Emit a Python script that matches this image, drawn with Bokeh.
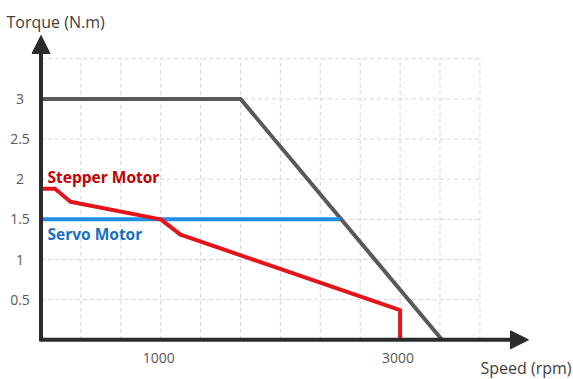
from bokeh.plotting import figure
from bokeh.models import Range1d, Arrow, NormalHead
from bokeh.core.properties import value
from bokeh.embed import file_html
from bokeh.resources import INLINE

# ---- data ----
stepper_speed = [0, 117, 246, 1000, 1165, 3000, 3000]
stepper_torque = [1.88, 1.88, 1.72, 1.5, 1.31, 0.37, 0.0]

servo_peak_speed = [0, 1667, 3350]
servo_peak_torque = [3.0, 3.0, 0.0]

servo_rated_speed = [0, 2500]
servo_rated_torque = [1.5, 1.5]

y_ticks = [0.5, 1, 1.5, 2, 2.5, 3]
y_tick_labels = ["0.5", "1", "1.5", "2", "2.5", "3"]
x_ticks = [1000, 3000]
x_tick_labels = ["1000", "3000"]

x_grid = [333, 667, 1000, 1333, 1667, 2000, 2333, 2667, 3000, 3333, 3667]
y_grid = [0.5, 1, 1.5, 2, 2.5, 3, 3.5]
grid_x_max = 3667
grid_y_max = 3.5

# ---- layout (image pixels -> data) ----
ORIGIN = 0
W, H = 573, 379
X0_PX, X_SCALE = 40.5, 0.1197   # image x of speed 0, px per rpm
Y0_PX, Y_SCALE = 339.3, 80.3    # image y of torque 0, px per N.m

def px2x(px):
    return (px - X0_PX) / X_SCALE

def px2y(py):
    return (Y0_PX - py) / Y_SCALE

p = figure(width=W, height=H, output_backend="svg", toolbar_location=None,
           x_axis_location=None, y_axis_location=None,
           x_range=Range1d(px2x(ORIGIN), px2x(ORIGIN + W)),
           y_range=Range1d(px2y(ORIGIN + H), px2y(ORIGIN)),
           min_border=0, outline_line_color=None)
p.grid.visible = False
p.background_fill_color = "white"

FONT = value("Open Sans")
GRID_C = "#d4d4d4"

# grid
p.segment(x0=x_grid, y0=[0] * len(x_grid), x1=x_grid, y1=[grid_y_max] * len(x_grid),
          line_color=GRID_C, line_width=1, line_dash="4 3")
p.segment(x0=[0] * len(y_grid), y0=y_grid, x1=[grid_x_max] * len(y_grid), y1=y_grid,
          line_color=GRID_C, line_width=1, line_dash="4 3")

# curves
p.line(servo_peak_speed, servo_peak_torque, line_color="#595959", line_width=4)
p.line(servo_rated_speed, servo_rated_torque, line_color="#1E8FE6", line_width=4)
p.line(stepper_speed, stepper_torque, line_color="#E5141B", line_width=4,
       line_join="round")

# axes with arrows
AX_C = "#2b2b2b"
p.add_layout(Arrow(end=NormalHead(size=18, fill_color=AX_C, line_color=AX_C, line_width=1),
                   x_start=0, y_start=px2y(341), x_end=0, y_end=px2y(35),
                   line_color=AX_C, line_width=4))
p.add_layout(Arrow(end=NormalHead(size=18, fill_color=AX_C, line_color=AX_C, line_width=1),
                   x_start=px2x(40), y_start=0, x_end=px2x(528), y_end=0,
                   line_color=AX_C, line_width=4))

# tick labels
p.text(x=[0] * len(y_ticks), y=y_ticks, text=y_tick_labels, x_offset=-21,
       text_align="center", text_baseline="middle", text_font=FONT,
       text_font_size="14px", text_color="#595959")
p.text(x=x_ticks, y=[0] * len(x_ticks), text=x_tick_labels, x_offset=-2, y_offset=18,
       text_align="center", text_baseline="middle", text_font=FONT,
       text_font_size="14px", text_color="#595959")

# axis titles
p.text(x=[px2x(6)], y=[px2y(21)], text=["Torque (N.m)"], text_align="left",
       text_baseline="alphabetic", text_font=FONT, text_font_size="16px",
       text_color="#404040")
p.text(x=[px2x(480)], y=[px2y(367)], text=["Speed (rpm)"], text_align="left",
       text_baseline="alphabetic", text_font=FONT, text_font_size="16px",
       text_color="#404040")

# series labels
p.text(x=[px2x(47)], y=[px2y(176)], text=["Stepper Motor"], text_align="left",
       text_baseline="middle", text_font=FONT, text_font_size="15.5px",
       text_font_style="bold", text_color="#C00000")
p.text(x=[px2x(47)], y=[px2y(233)], text=["Servo Motor"], text_align="left",
       text_baseline="middle", text_font=FONT, text_font_size="15.5px",
       text_font_style="bold", text_color="#1A70C0")

open("out.html", "w").write(file_html(p, INLINE))
